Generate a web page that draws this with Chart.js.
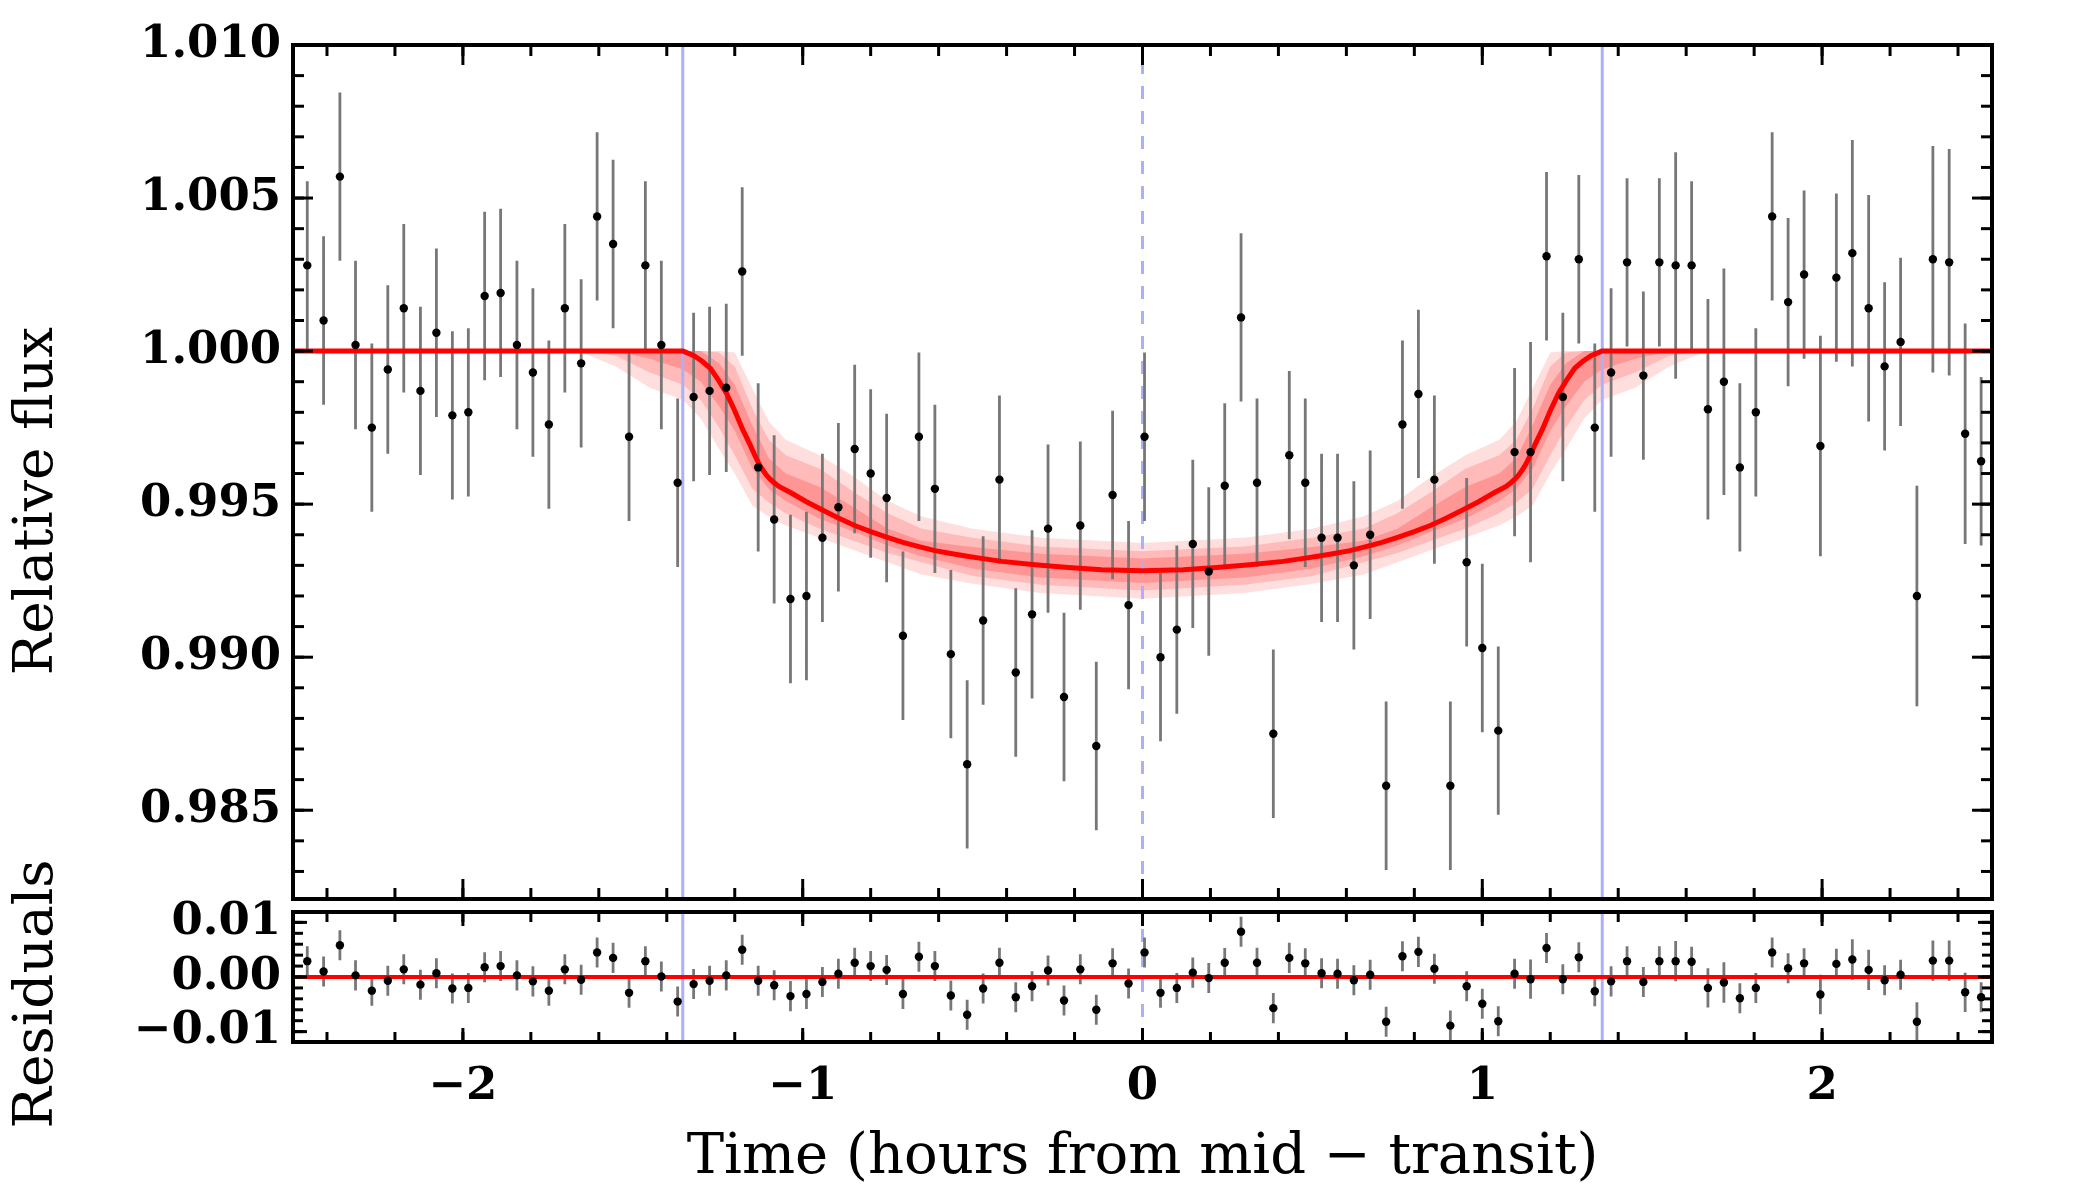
<!DOCTYPE html>
<html>
<head>
<meta charset="utf-8">
<script src="https://cdn.jsdelivr.net/npm/chart.js@4.4.1/dist/chart.umd.min.js"></script>
<style>
  html, body { margin: 0; padding: 0; background: #fff; }
  #wrap { position: relative; width: 2100px; height: 1200px; }
  #main { position: absolute; left: 0; top: 0; }
  #resid { position: absolute; left: 0; top: 840px; }
</style>
</head>
<body>
<div id="wrap">
  <canvas id="main" width="2100" height="940" style="width:2100px;height:940px"></canvas>
  <canvas id="resid" width="2100" height="360" style="width:2100px;height:360px"></canvas>
</div>
<script>
// axis ranges and ticks
const X_MIN = -2.5, X_MAX = 2.5;
const MAIN_MIN = 0.9821, MAIN_MAX = 1.010;
const RES_MIN = -0.0119, RES_MAX = 0.0119;
const X_TICKS = [-2, -1, 0, 1, 2];
const MAIN_TICKS = [0.985, 0.990, 0.995, 1.000, 1.005, 1.010];
const RES_TICKS = [-0.01, 0.00, 0.01];

// contact points (solid blue) and mid-transit (dashed blue)
const CONTACTS = [-1.353, 1.353];
const MID_TRANSIT = 0;

// observations (hours from mid-transit)
const TIME = [
  -2.458, -2.410, -2.362, -2.316, -2.268, -2.221, -2.174, -2.125, -2.078, -2.031,
  -1.984, -1.936, -1.889, -1.841, -1.794, -1.747, -1.700, -1.652, -1.605, -1.558,
  -1.511, -1.463, -1.416, -1.368, -1.321, -1.274, -1.225, -1.178, -1.131, -1.084,
  -1.036, -0.989, -0.942, -0.895, -0.847, -0.800, -0.753, -0.705, -0.658, -0.611,
  -0.564, -0.516, -0.469, -0.421, -0.373, -0.325, -0.278, -0.231, -0.183, -0.136,
  -0.088, -0.041, 0.006, 0.053, 0.101, 0.148, 0.195, 0.242, 0.290, 0.337,
  0.385, 0.432, 0.479, 0.527, 0.574, 0.622, 0.670, 0.717, 0.765, 0.812,
  0.859, 0.906, 0.954, 1.000, 1.047, 1.095, 1.142, 1.189, 1.237, 1.284,
  1.331, 1.379, 1.426, 1.474, 1.521, 1.569, 1.616, 1.664, 1.711, 1.758,
  1.805, 1.853, 1.900, 1.947, 1.995, 2.042, 2.089, 2.137, 2.184, 2.231,
  2.279, 2.326, 2.374, 2.421, 2.468
];
const FLUX = [
  1.0028, 1.0010, 1.0057, 1.0002, 0.9975, 0.9994, 1.0014, 0.9987, 1.0006, 0.9979,
  0.9980, 1.0018, 1.0019, 1.0002, 0.9993, 0.9976, 1.0014, 0.9996, 1.0044, 1.0035,
  0.9972, 1.0028, 1.0002, 0.9957, 0.9985, 0.9987, 0.9988, 1.0026, 0.9962, 0.9945,
  0.9919, 0.9920, 0.9939, 0.9949, 0.9968, 0.9960, 0.9952, 0.9907, 0.9972, 0.9955,
  0.9901, 0.9865, 0.9912, 0.9958, 0.9895, 0.9914, 0.9942, 0.9887, 0.9943, 0.9871,
  0.9953, 0.9917, 0.9972, 0.9900, 0.9909, 0.9937, 0.9928, 0.9956, 1.0011, 0.9957,
  0.9875, 0.9966, 0.9957, 0.9939, 0.9939, 0.9930, 0.9940, 0.9858, 0.9976, 0.9986,
  0.9958, 0.9858, 0.9931, 0.9903, 0.9876, 0.9967, 0.9967, 1.0031, 0.9985, 1.0030,
  0.9975, 0.9993, 1.0029, 0.9992, 1.0029, 1.0028, 1.0028, 0.9981, 0.9990, 0.9962,
  0.9980, 1.0044, 1.0016, 1.0025, 0.9969, 1.0024, 1.0032, 1.0014, 0.9995, 1.0003,
  0.9920, 1.0030, 1.0029, 0.9973, 0.9964
];
const FLUX_ERR = [
  0.00275, 0.00275, 0.00275, 0.00275, 0.00275, 0.00275, 0.00275, 0.00275, 0.00275, 0.00275,
  0.00275, 0.00275, 0.00275, 0.00275, 0.00275, 0.00275, 0.00275, 0.00275, 0.00275, 0.00275,
  0.00275, 0.00275, 0.00275, 0.00275, 0.00275, 0.00275, 0.00275, 0.00275, 0.00275, 0.00275,
  0.00275, 0.00275, 0.00275, 0.00275, 0.00275, 0.00275, 0.00275, 0.00275, 0.00275, 0.00275,
  0.00275, 0.00275, 0.00275, 0.00275, 0.00275, 0.00275, 0.00275, 0.00275, 0.00275, 0.00275,
  0.00275, 0.00275, 0.00275, 0.00275, 0.00275, 0.00275, 0.00275, 0.00270, 0.00275, 0.00275,
  0.00275, 0.00275, 0.00275, 0.00275, 0.00275, 0.00275, 0.00275, 0.00275, 0.00275, 0.00275,
  0.00275, 0.00275, 0.00275, 0.00275, 0.00275, 0.00275, 0.00360, 0.00275, 0.00275, 0.00275,
  0.00275, 0.00275, 0.00275, 0.00275, 0.00275, 0.00370, 0.00275, 0.00360, 0.00370, 0.00275,
  0.00275, 0.00275, 0.00275, 0.00275, 0.00360, 0.00275, 0.00370, 0.00370, 0.00275, 0.00275,
  0.00360, 0.00370, 0.00370, 0.00360, 0.00275
];
const RESID = [
  0.0029, 0.0010, 0.0058, 0.0003, -0.0025, -0.0007, 0.0014, -0.0014, 0.0007, -0.0021,
  -0.0020, 0.0018, 0.0020, 0.0003, -0.0008, -0.0025, 0.0014, -0.0005, 0.0045, 0.0035,
  -0.0029, 0.0029, 0.0001, -0.0045, -0.0013, -0.0007, 0.0003, 0.0050, -0.0007, -0.0015,
  -0.0035, -0.0031, -0.0009, 0.0006, 0.0026, 0.0020, 0.0013, -0.0031, 0.0037, 0.0020,
  -0.0034, -0.0069, -0.0021, 0.0026, -0.0037, -0.0017, 0.0012, -0.0043, 0.0014, -0.0060,
  0.0025, -0.0012, 0.0045, -0.0029, -0.0020, 0.0008, -0.0002, 0.0026, 0.0083, 0.0026,
  -0.0057, 0.0035, 0.0025, 0.0007, 0.0006, -0.0006, 0.0004, -0.0082, 0.0038, 0.0046,
  0.0015, -0.0089, -0.0017, -0.0049, -0.0081, 0.0006, -0.0004, 0.0053, -0.0004, 0.0036,
  -0.0026, -0.0008, 0.0029, -0.0009, 0.0029, 0.0029, 0.0028, -0.0020, -0.0010, -0.0039,
  -0.0020, 0.0045, 0.0016, 0.0025, -0.0032, 0.0024, 0.0032, 0.0013, -0.0006, 0.0004,
  -0.0082, 0.0030, 0.0030, -0.0028, -0.0037
];

// best-fit transit model
const MODEL_X = [
  -2.5, -1.352, -1.32, -1.295, -1.272, -1.248, -1.224, -1.20, -1.177, -1.154,
  -1.142, -1.13, -1.118, -1.106, -1.095, -1.084, -1.07, -1.05, -1.036, -0.989,
  -0.942, -0.895, -0.847, -0.80, -0.753, -0.705, -0.658, -0.611, -0.564, -0.516,
  -0.469, -0.414, -0.316, -0.218, -0.12,
  0,
  0.12, 0.218, 0.316, 0.414, 0.469,
  0.516, 0.564, 0.611, 0.658, 0.705, 0.753, 0.80, 0.847, 0.895, 0.942,
  0.989, 1.036, 1.05, 1.07, 1.084, 1.095, 1.106, 1.118, 1.13, 1.142,
  1.154, 1.177, 1.20, 1.224, 1.248, 1.272, 1.295, 1.32, 1.352, 2.5
];
const MODEL_Y = [
  1.0, 1.0, 0.99985, 0.99966, 0.99944, 0.99905, 0.99862, 0.99805, 0.99745, 0.99692,
  0.99662, 0.99634, 0.99612, 0.99594, 0.99581, 0.9957, 0.99558, 0.99546, 0.99538, 0.99508,
  0.99481, 0.99455, 0.9943, 0.9941, 0.99392, 0.99375, 0.99361, 0.99348, 0.99339, 0.9933,
  0.99322, 0.99313, 0.99302, 0.99293, 0.99286,
  0.99282,
  0.99286, 0.99293, 0.99302, 0.99313, 0.99322,
  0.9933, 0.99339, 0.99348, 0.99361, 0.99375, 0.99392, 0.9941, 0.9943, 0.99455, 0.99481,
  0.99508, 0.99538, 0.99546, 0.99558, 0.9957, 0.99581, 0.99594, 0.99612, 0.99634, 0.99662,
  0.99692, 0.99745, 0.99805, 0.99862, 0.99905, 0.99944, 0.99966, 0.99985, 1.0, 1.0
];

// credible bands around the model (inner = 1, outer = 3)
const BAND_X = [
  -2.5, -1.80, -1.65, -1.55, -1.45, -1.352, -1.30, -1.246, -1.20, -1.148,
  -1.10, -1.05, -0.95, -0.85, -0.75, -0.65, -0.5, -0.3, 0,
  0.3, 0.5, 0.65, 0.75, 0.85, 0.95, 1.05, 1.10, 1.148, 1.20,
  1.246, 1.30, 1.352, 1.45, 1.55, 1.65, 1.80, 2.5
];
const BAND_LO3 = [
  1.0, 1.0, 0.99995, 0.9995, 0.9988, 0.9984, 0.9978, 0.9968, 0.9960, 0.99495,
  0.9946, 0.9943, 0.9939, 0.9935, 0.9931, 0.9927, 0.9924, 0.9921, 0.99191,
  0.9921, 0.9924, 0.9927, 0.9931, 0.9935, 0.9939, 0.9943, 0.9946, 0.99495, 0.9960,
  0.9968, 0.9978, 0.9984, 0.9988, 0.9995, 0.99995, 1.0, 1.0
];
const BAND_HI3 = [
  1.0, 1.0, 1.0, 1.0, 1.0, 1.0, 1.0, 1.0, 0.99995, 0.99878,
  0.9977, 0.9971, 0.9966, 0.9959, 0.9951, 0.9946, 0.9942, 0.9939, 0.99373,
  0.9939, 0.9942, 0.9946, 0.9951, 0.9959, 0.9966, 0.9971, 0.9977, 0.99878, 0.99995,
  1.0, 1.0, 1.0, 1.0, 1.0, 1.0, 1.0, 1.0
];
const BAND_LO2 = [
  1.0, 1.0, 1.0, 0.99985, 0.9993, 0.9989, 0.9984, 0.9975, 0.9966, 0.9955,
  0.99505, 0.9947, 0.9942, 0.9938, 0.9934, 0.9931, 0.99265, 0.99237, 0.99218,
  0.99237, 0.99265, 0.9931, 0.9934, 0.9938, 0.9942, 0.9947, 0.99505, 0.9955, 0.9966,
  0.9975, 0.9984, 0.9989, 0.9993, 0.99985, 1.0, 1.0, 1.0
];
const BAND_HI2 = [
  1.0, 1.0, 1.0, 1.0, 1.0, 1.0, 1.0, 0.99995, 0.9995, 0.99812,
  0.9971, 0.9966, 0.99616, 0.9954, 0.9947, 0.9942, 0.9939, 0.99362, 0.99346,
  0.99362, 0.9939, 0.9942, 0.9947, 0.9954, 0.99616, 0.9966, 0.9971, 0.99812, 0.9995,
  0.99995, 1.0, 1.0, 1.0, 1.0, 1.0, 1.0, 1.0
];
const BAND_LO1 = [
  1.0, 1.0, 1.0, 1.0, 0.99975, 0.9994, 0.9990, 0.9982, 0.9974, 0.99616,
  0.9955, 0.9951, 0.99452, 0.9941, 0.99365, 0.9933, 0.9929, 0.9926, 0.99242,
  0.9926, 0.9929, 0.9933, 0.99365, 0.9941, 0.99452, 0.9951, 0.9955, 0.99616, 0.9974,
  0.9982, 0.9990, 0.9994, 0.99975, 1.0, 1.0, 1.0, 1.0
];
const BAND_HI1 = [
  1.0, 1.0, 1.0, 1.0, 1.0, 1.0, 1.0, 0.9996, 0.9989, 0.99758,
  0.9965, 0.9960, 0.99556, 0.9949, 0.9942, 0.9938, 0.9936, 0.99338, 0.99322,
  0.99338, 0.9936, 0.9938, 0.9942, 0.9949, 0.99556, 0.9960, 0.9965, 0.99758, 0.9989,
  0.9996, 1.0, 1.0, 1.0, 1.0, 1.0, 1.0, 1.0
];

const RED = '#ff0000';
const BLUE = '#abb0fb';
const GREY = '#777777';
const TICK_FONT = { family: 'DejaVu Serif', size: 45, weight: 'bold' };
const TITLE_FONT = "55px 'DejaVu Serif'";

function pts(xs, ys) {
  return xs.map((x, i) => ({ x: x, y: ys[i] }));
}
function errBars(xs, ys, es) {
  const out = [];
  xs.forEach((x, i) => {
    out.push({ x: x, y: ys[i] - es[i] }, { x: x, y: ys[i] + es[i] }, { x: x, y: null });
  });
  return out;
}
function vline(x, lo, hi) {
  return [{ x: x, y: lo }, { x: x, y: hi }];
}
function minus(s) {
  return s.replace('-', '\u2212');
}

// border box + inward ticks on all four sides, plus the rotated y title
const frame = {
  id: 'frame',
  afterDraw(chart, args, o) {
    const { ctx, chartArea: a, scales } = chart;
    const sx = scales.x, sy = scales.y;
    ctx.save();
    ctx.strokeStyle = '#000';
    ctx.lineWidth = 3;
    function seg(x0, y0, x1, y1) {
      ctx.beginPath(); ctx.moveTo(x0, y0); ctx.lineTo(x1, y1); ctx.stroke();
    }
    function xTick(v, len) {
      const p = sx.getPixelForValue(v);
      seg(p, a.top, p, a.top + len);
      seg(p, a.bottom, p, a.bottom - len);
    }
    function yTick(v, len) {
      const p = sy.getPixelForValue(v);
      seg(a.left, p, a.left + len, p);
      seg(a.right, p, a.right - len, p);
    }
    for (let k = Math.ceil(X_MIN / o.xStep - 1e-9); k * o.xStep <= X_MAX + 1e-9; k++) xTick(k * o.xStep, o.minor);
    for (let k = Math.ceil(sy.min / o.yStep - 1e-9); k * o.yStep <= sy.max + 1e-9; k++) yTick(k * o.yStep, o.minor);
    X_TICKS.forEach(v => xTick(v, o.major));
    o.yTicks.forEach(v => yTick(v, o.major));
    ctx.lineWidth = 4;
    ctx.strokeRect(a.left, a.top, a.right - a.left, a.bottom - a.top);
    ctx.fillStyle = '#000';
    ctx.font = TITLE_FONT;
    ctx.textAlign = 'center';
    ctx.textBaseline = 'middle';
    ctx.translate(o.titleX, o.titleY);
    ctx.rotate(-Math.PI / 2);
    ctx.fillText(o.title, 0, 0);
    ctx.restore();
  }
};

function yScale(min, max, ticks, digits) {
  return {
    type: 'linear', min: min, max: max,
    afterFit: s => { s.width = 293; },
    afterBuildTicks: s => { s.ticks = ticks.map(v => ({ value: v })); },
    grid: { display: false, drawTicks: false },
    border: { display: false },
    ticks: {
      autoSkip: false, padding: 12, color: '#000', font: TICK_FONT,
      callback: v => minus(Number(v).toFixed(digits))
    }
  };
}

const line = (data, extra) => Object.assign({
  data: data, borderWidth: 0, borderColor: 'rgba(0,0,0,0)', pointRadius: 0, fill: false, tension: 0
}, extra);

new Chart(document.getElementById('main'), {
  type: 'line',
  data: {
    datasets: [
      line(pts(BAND_X, BAND_LO3), { order: 30 }),
      line(pts(BAND_X, BAND_HI3), { order: 30, fill: 0, backgroundColor: '#ffdede' }),
      line(pts(BAND_X, BAND_LO2), { order: 20 }),
      line(pts(BAND_X, BAND_HI2), { order: 20, fill: 2, backgroundColor: '#ffbaba' }),
      line(pts(BAND_X, BAND_LO1), { order: 10 }),
      line(pts(BAND_X, BAND_HI1), { order: 10, fill: 4, backgroundColor: '#ff9696' }),
      line(vline(CONTACTS[0], MAIN_MIN, MAIN_MAX), { order: 6, borderColor: BLUE, borderWidth: 3 }),
      line(vline(CONTACTS[1], MAIN_MIN, MAIN_MAX), { order: 6, borderColor: BLUE, borderWidth: 3 }),
      line(vline(MID_TRANSIT, MAIN_MIN, MAIN_MAX), { order: 6, borderColor: BLUE, borderWidth: 3, borderDash: [13, 12] }),
      line(errBars(TIME, FLUX, FLUX_ERR), { order: 4, borderColor: GREY, borderWidth: 2.8, spanGaps: false }),
      line(pts(MODEL_X, MODEL_Y), { order: 2, borderColor: RED, borderWidth: 5 }),
      line(pts(TIME, FLUX), { order: 1, showLine: false, pointRadius: 4.2, pointBorderWidth: 0, pointBackgroundColor: '#000' })
    ]
  },
  options: {
    responsive: false, animation: false, devicePixelRatio: 1, events: [],
    layout: { padding: { top: 45, right: 108, bottom: 41, left: 0 } },
    plugins: {
      legend: { display: false }, tooltip: { enabled: false },
      frame: { xStep: 0.2, yStep: 0.001, major: 20, minor: 11, yTicks: MAIN_TICKS,
               title: 'Relative flux', titleX: 38, titleY: 501 }
    },
    scales: {
      x: { type: 'linear', min: X_MIN, max: X_MAX, display: false },
      y: yScale(MAIN_MIN, MAIN_MAX, MAIN_TICKS, 3)
    }
  },
  plugins: [frame]
});

new Chart(document.getElementById('resid'), {
  type: 'line',
  data: {
    datasets: [
      line(vline(CONTACTS[0], RES_MIN, RES_MAX), { order: 6, borderColor: BLUE, borderWidth: 3 }),
      line(vline(CONTACTS[1], RES_MIN, RES_MAX), { order: 6, borderColor: BLUE, borderWidth: 3 }),
      line(vline(MID_TRANSIT, RES_MIN, RES_MAX), { order: 6, borderColor: BLUE, borderWidth: 3, borderDash: [13, 12] }),
      line(errBars(TIME, RESID, FLUX_ERR), { order: 4, borderColor: GREY, borderWidth: 2.8, spanGaps: false }),
      line([{ x: X_MIN, y: 0 }, { x: X_MAX, y: 0 }], { order: 2, borderColor: RED, borderWidth: 4 }),
      line(pts(TIME, RESID), { order: 1, showLine: false, pointRadius: 4.2, pointBorderWidth: 0, pointBackgroundColor: '#000' })
    ]
  },
  options: {
    responsive: false, animation: false, devicePixelRatio: 1, events: [],
    layout: { padding: { top: 72, right: 108, bottom: 0, left: 0 } },
    plugins: {
      legend: { display: false }, tooltip: { enabled: false },
      frame: { xStep: 0.2, yStep: 0.002, major: 14, minor: 10, yTicks: RES_TICKS,
               title: 'Residuals', titleX: 38, titleY: 154 }
    },
    scales: {
      x: {
        type: 'linear', min: X_MIN, max: X_MAX,
        afterFit: s => { s.height = 158; },
        afterBuildTicks: s => { s.ticks = X_TICKS.map(v => ({ value: v })); },
        grid: { display: false, drawTicks: false },
        border: { display: false },
        ticks: { autoSkip: false, maxRotation: 0, padding: 18, color: '#000', font: TICK_FONT,
                 callback: v => minus(String(v)) },
        title: { display: true, text: 'Time (hours from mid \u2212 transit)', color: '#000',
                 font: { family: 'DejaVu Serif', size: 56 }, padding: { top: 0, bottom: 8 } }
      },
      y: yScale(RES_MIN, RES_MAX, RES_TICKS, 2)
    }
  },
  plugins: [frame]
});
</script>
</body>
</html>
